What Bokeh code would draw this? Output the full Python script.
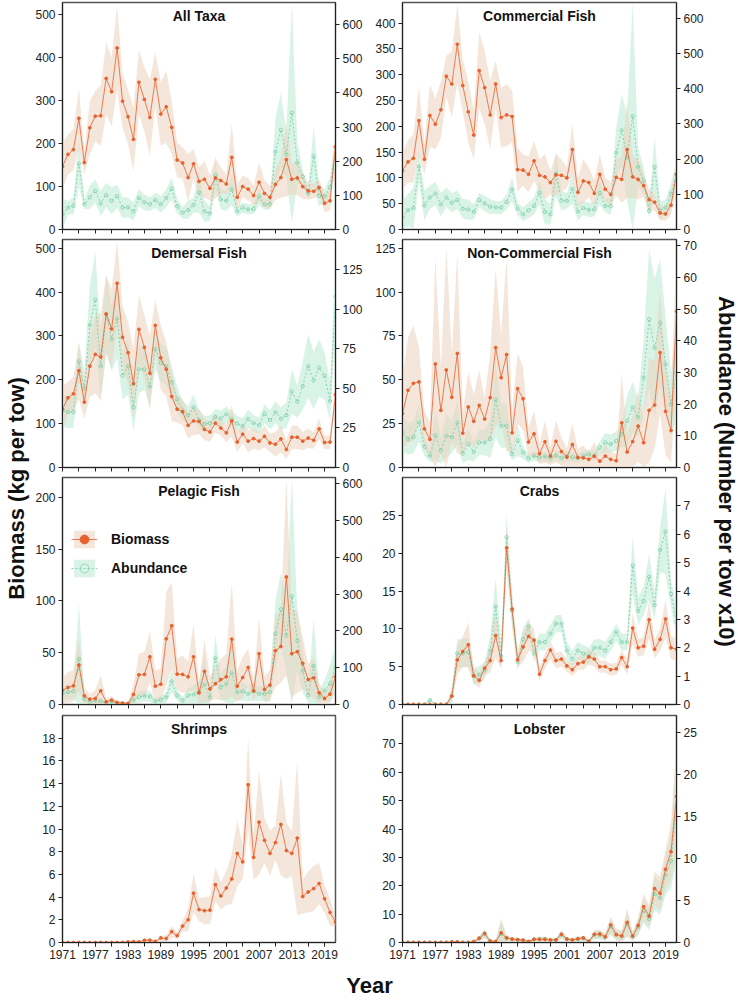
from bokeh.plotting import figure
from bokeh.models import Range1d, LinearAxis, FixedTicker, Label, Legend, LegendItem
from bokeh.layouts import row, column
from bokeh.embed import file_html
from bokeh.resources import INLINE

years = list(range(1971, 2022))

# ---------------- data (1971..2021) ----------------
at_bio = [147,175,186,259,156,237,264,265,352,321, 423,299,263,210,343,303,261,350,269,286,
          238,162,155,121,153,112,117,96,120,114, 106,168,75,100,94,79,110,84,75,105,
          121,163,117,120,100,90,89,98,61,67, 193]
at_bio_err = [52,47,48,70,27,63,59,70,84,80, 98,63,64,74,75,75,89,63,74,84,
              62,41,36,55,34,33,43,29,48,31, 23,78,31,25,26,23,46,31,27,36,
              47,86,35,40,29,20,17,19,21,23, 29]
at_ab = [45,64,69,193,74,94,113,76,101,84, 98,64,65,53,93,80,74,86,74,92,
         120,68,49,57,72,109,53,47,160,88, 84,117,53,64,59,60,97,73,74,228,
         292,220,342,196,155,106,215,98,98,123, 240]
at_ab_err = [44,20,25,66,15,34,34,37,36,39, 34,30,29,26,25,23,20,22,24,26,
             32,21,17,27,22,60,31,22,41,30, 29,45,16,15,15,14,26,16,15,99,
             108,68,321,63,21,17,88,30,20,29, 48]

cf_bio = [114,131,138,211,136,221,204,232,297,282, 359,279,228,183,308,275,222,282,217,222,
          219,116,115,107,133,105,102,91,106,105, 100,155,72,94,91,70,107,78,68,101,
          97,155,102,97,85,58,53,32,30,47, 107]
cf_bio_err = [35,41,47,66,30,61,49,55,40,64, 77,51,60,47,74,71,66,45,58,60,
              50,43,30,35,39,31,44,23,40,31, 20,49,29,42,29,25,39,23,24,35,
              45,94,40,39,22,21,16,14,13,18, 33]
cf_ab = [34,55,61,179,68,91,102,71,91,76, 84,59,57,50,84,74,65,63,62,78,
         114,59,43,55,67,104,50,43,159,82, 82,115,51,61,56,57,104,67,66,218,
         282,204,322,178,139,53,178,54,63,102, 157]
cf_ab_err = [50,45,58,44,42,33,33,33,28,28, 26,27,29,22,20,22,21,18,19,22,
             34,18,19,22,24,34,36,29,64,28, 22,42,26,20,21,20,34,19,25,72,
             102,123,322,54,37,19,83,27,20,31, 38]

df_bio = [133,159,168,221,149,231,258,252,350,316, 420,297,262,191,315,274,215,324,250,224,
          162,133,127,96,106,105,87,81,101,90, 79,106,58,76,60,66,60,71,56,53,
          65,41,69,69,60,67,62,88,57,58, 166]
df_bio_err = [54,36,38,65,38,70,89,100,88,91, 97,73,70,80,77,73,86,60,74,62,
              56,31,30,30,32,29,24,22,21,17, 21,36,23,20,25,23,21,25,21,28,
              31,21,27,27,21,22,19,23,16,15, 21]
df_ab = [36,35,35,67,50,90,106,64,97,81, 94,58,64,38,62,62,51,75,66,64,
         54,43,36,33,38,30,27.5,28,32,31, 33.6,30.5,27.7,26.3,30.7,28,26.7,34,30,34.9,
         30.9,33,48,41.6,51.5,64,55,63,57.8,42, 108]
df_ab_err = [10,10,10,12,10,25,30,20,25,20, 25,15,18,15,15,13,12,13,12,12,
             10,8,6,6,8,6,5,5,5,5, 5,5,5,5,6,5,5,6,6,7,
             7,8,14,10,15,20,18,18,15,12, 20]

nc_bio = [30.7,44,48,48.8,22,16,59,32.6,55.6,40, 65,19.6,34.5,26.3,35.4,27.6,39.8,68.4,51.2,64.4,
          19.8,45,39.2,14.5,19.2,7.8,14.7,6.5,14.9,9.1, 5.9,13.1,5.7,5.5,4.6,6.5,3.6,6.5,4.6,3.8,
          25.5,8.8,14.7,23.6,14.1,32.6,35.6,65.5,32,21.1, 89]
nc_bio_err = [20,30,33,20,10,10,60,25,70,25, 57,12,20,15,20,12,25,45,25,55,
              12,20,18,8,13,6,12,5,12,8, 5,12,5,7,4,8,4,7,4,4,
              28,10,15,20,15,30,25,35,25,18, 40]
nc_ab = [11,9,9.6,14.2,6.6,3.7,10.2,5.3,10,9.6, 14.2,4.4,7.4,4.9,7.9,7.9,9,21.4,13.2,13.2,
         4.2,8.6,4.7,2.9,3.7,3.2,3.5,3.0,3.8,3.0, 3.6,3.3,3.0,3.7,4.2,3.7,6.3,7.9,7.4,8.4,
         10.5,14.7,19,15.8,28.4,46.8,37.7,45.8,32.6,20, 30]
nc_ab_err = [6,5,5,6,3,2,8,4,7,5, 7,3,5,3,4,4,6,12,7,7,
             2,5,2,1.5,1.5,1.5,1.5,1.5,1.5,1.5, 1.5,1.5,1.5,1.5,1.5,1.5,2,3,3,3,
             4,8,8,6,12,22,22,20,15,10, 15]

pf_bio = [13.8,16.4,18,38,8.4,5.1,5.8,13.2,2.6,4.2, 1.9,1.3,1.0,9.7,28.6,29,46,17.7,19.6,63.4,
          76,29.3,29,26.7,46,11.3,32,15,20,24, 26.7,63,17.7,26,35.7,13.2,49,14.5,18.7,52,
          56,123,49,51,39.6,24,25.7,11.3,5.8,10, 26.7]
pf_bio_err = [12,15,15,25,8,5,8,15,3,4, 2,1,1,10,20,22,25,15,15,45,
              42,15,18,15,32,10,30,12,15,20, 22,55,15,20,18,10,35,12,15,35,
              35,95,42,40,25,15,20,10,5,8, 15]
pf_ab = [29,33.5,36,124,15,6,11,9,4.5,6, 3.6,2.7,1.8,12.7,20,23.5,21.7,9,12.7,20,
         63,24.5,11,24.5,27,33.5,54,20,126,47, 56,85,33.5,36,29,36,29,29,33.5,192,
         259,187,294,174,92,24.5,105,20,38,56, 100]
pf_ab_err = [20,20,20,150,10,5,8,6,3,4, 2,2,1,12,15,15,15,8,10,15,
             30,15,10,20,25,30,80,15,60,35, 50,90,20,25,20,25,20,20,25,90,
             100,100,320,80,60,20,130,15,30,50, 60]

cr_bio = [0,0,0,0,0,0,0,0,0,1.1, 5.9,7.0,7.9,3.8,3.2,4.8,5.8,9.1,5.8,20.7,
          12.6,5.9,7.6,9.0,8.5,4.0,5.8,7.2,5.8,6.0, 5.1,4.6,5.4,5.6,6.3,6.0,5.0,5.0,4.6,4.7,
          6.2,5.0,10.1,7.5,7.7,11.2,7.3,8.6,11.3,7.5, 7.3]
cr_bio_err = [0,0,0,0,0,0,0,0,0,0.8, 2,2,3,1,1,1,1.5,3,1,3,
              2,1,2,2,1.5,0.8,1,1.2,1,1, 0.8,0.8,0.8,1,1,1,0.8,0.8,0.8,0.8,
              1,1,2,1.2,1.2,2.5,1.2,1.5,2.5,1.5, 1.5]
cr_ab = [0,0,0,0,0,0.15,0,0,0,0.3, 1.8,1.8,1.85,1.0,1.05,1.2,1.9,3.45,1.7,5.9,
         3.3,1.5,2.3,2.75,1.8,2.2,2.2,2.5,2.85,2.85, 1.9,1.6,1.9,1.8,1.7,2.0,2.0,1.9,2.2,2.55,
         2.2,2.2,4.9,3.3,3.65,4.5,3.5,5.45,6.1,3.9, 2.9]
cr_ab_err = [0,0,0,0,0,0.1,0,0,0,0.3, 0.5,0.5,0.5,0.3,0.3,0.3,0.5,1.0,0.5,0.8,
             0.6,0.3,0.4,0.3,0.3,0.3,0.3,0.3,0.3,0.3, 0.3,0.3,0.3,0.3,0.3,0.3,0.3,0.3,0.3,0.3,
             0.3,0.3,1.0,0.5,0.5,0.8,0.5,0.8,1.5,0.5, 0.5]

sh_bio = [0,0,0,0,0,0,0,0,0,0, 0,0,0.05,0.08,0.05,0.2,0.2,0.1,0.4,0.35,
          0.95,0.6,1.45,2.0,4.35,2.9,2.8,2.85,5.1,4.1, 4.8,5.6,7.85,7.1,13.9,7.5,10.6,9.0,7.85,8.8,
          10.4,8.1,7.85,9.2,4.05,4.45,4.75,5.2,3.85,2.65, 1.8]
sh_bio_err = [0,0,0,0,0,0,0,0,0,0, 0,0,0.03,0.05,0.03,0.1,0.1,0.05,0.2,0.3,
              0.5,0.3,0.5,1.0,1.7,1.0,1.2,1.2,1.5,1.2, 1.5,2.2,2.9,1.5,4.0,2.0,4.6,2.0,2.0,1.5,
              4.5,2.5,2.0,6.8,1.5,1.8,2.0,1.8,1.2,1.2, 0.4]

lb_bio = [0,0,0,0,0,0,0,0,0,0.2, 0.2,0,0,0.3,1.5,3.2,0.5,0.3,3.4,1.6,
          1.2,1.0,0.8,0.3,1.1,1.1,1.1,0.9,0.9,2.9, 1.2,0.9,1.3,1.6,0.4,2.9,3.0,2.0,6.2,2.8,
          2.3,7.1,2.3,6.0,12.6,9.3,19.0,17.3,25.8,32, 51.5]
lb_bio_err = [0,0,0,0,0,0,0,0,0,0.2, 0.2,0,0,0.3,0.8,1.5,0.4,0.3,5.0,1.0,
              0.6,0.6,0.5,0.3,0.6,0.8,0.8,0.5,0.5,1.5, 0.6,0.5,0.8,0.8,0.3,1.5,1.5,1.2,3.0,2.0,
              2.0,5.0,1.5,3.0,4.5,4.0,6.0,6.0,7.0,10.0, 20]
lb_ab = [0,0,0,0,0,0,0,0,0,0.05, 0.05,0,0,0.1,0.5,1.0,0.15,0.1,1.0,0.5,
         0.4,0.3,0.25,0.1,0.4,0.4,0.4,0.3,0.3,0.9, 0.4,0.3,0.4,0.5,0.15,0.9,0.9,0.6,1.9,0.9,
         0.7,2.2,0.7,1.8,3.8,2.8,5.8,5.3,8.0,9.7, 16]
lb_ab_err = [0,0,0,0,0,0,0,0,0,0.05, 0.05,0,0,0.1,0.3,0.5,0.1,0.1,1.5,0.3,
             0.2,0.2,0.2,0.1,0.2,0.3,0.3,0.2,0.2,0.5, 0.2,0.2,0.3,0.3,0.1,0.5,0.5,0.4,1.0,0.6,
             0.6,1.5,0.5,1.0,1.5,1.3,2.0,2.0,2.3,3.2, 6.5]

x_major = list(range(1971, 2020, 6))
x_all = list(range(1971, 2020, 3))

FONT = "Liberation Sans"
BIO_LINE = "#E8602C"
BIO_BAND = "#EBD2BB"
AB_LINE = "#7CCFA8"
AB_BAND = "#B3E8D0"
AX = "#222222"


def style_axis(ax):
    ax.axis_line_color = AX
    ax.axis_line_width = 1
    ax.major_tick_line_color = AX
    ax.minor_tick_line_color = AX
    ax.major_tick_out = 4
    ax.major_tick_in = 0
    ax.minor_tick_out = 4
    ax.minor_tick_in = 0
    ax.major_label_standoff = 3
    ax.major_label_text_font = FONT
    ax.major_label_text_font_size = "12px"
    ax.major_label_text_color = AX


def band(v, e):
    lo = [max(0.0, a - b) for a, b in zip(v, e)]
    hi = [a + b for a, b in zip(v, e)]
    return lo, hi


def panel(title, bio, bio_err, ab, ab_err, ymax, yticks, ymax2, yticks2,
          left_col, bottom_row, mb_top, mb_bottom, height, legend=False):
    mbl, mbr = (32, 33) if left_col else (34, 30)
    p = figure(width=338, height=height, x_range=Range1d(1971, 2021),
               y_range=Range1d(0, ymax), output_backend="svg", toolbar_location=None,
               min_border_left=mbl, min_border_right=mbr,
               min_border_top=mb_top, min_border_bottom=mb_bottom)
    p.xgrid.visible = False
    p.ygrid.visible = False
    p.outline_line_color = "#555555"
    p.outline_line_width = 1.5
    p.background_fill_color = "white"
    p.border_fill_color = None

    if bottom_row:
        p.xaxis.ticker = FixedTicker(ticks=x_major, minor_ticks=x_all)
    else:
        p.xaxis.ticker = FixedTicker(ticks=[], minor_ticks=x_all)
    style_axis(p.xaxis[0])
    p.yaxis.ticker = FixedTicker(ticks=yticks)
    style_axis(p.yaxis[0])
    p.yaxis.minor_tick_line_color = None

    ra = []
    if ab is not None:
        p.extra_y_ranges = {"ab": Range1d(0, ymax2)}
        ax2 = LinearAxis(y_range_name="ab", ticker=FixedTicker(ticks=yticks2))
        style_axis(ax2)
        ax2.minor_tick_line_color = None
        p.add_layout(ax2, "right")
        alo, ahi = band(ab, ab_err)
        ra_band = p.varea(x=years, y1=alo, y2=ahi, fill_color=AB_BAND, fill_alpha=0.5,
                          y_range_name="ab")
        ra = [ra_band]
    lo, hi = band(bio, bio_err)
    rb_band = p.varea(x=years, y1=lo, y2=hi, fill_color=BIO_BAND, fill_alpha=0.55)
    if ab is not None:
        ra_line = p.line(years, ab, line_color=AB_LINE, line_width=0.9, line_dash="2 2",
                         y_range_name="ab")
        ra_pts = p.scatter(years, ab, marker="circle", size=3.3, fill_alpha=0,
                           line_color=AB_LINE, line_width=0.8, y_range_name="ab")
        ra += [ra_line, ra_pts]
    rb_line = p.line(years, bio, line_color=BIO_LINE, line_width=0.8)
    rb_pts = p.scatter(years, bio, marker="circle", size=2.8, fill_color=BIO_LINE,
                       line_color=BIO_LINE)

    p.add_layout(Label(x=1996, y=ymax, y_offset=-13, text=title, text_align="center",
                       text_baseline="middle", text_font=FONT, text_font_style="bold",
                       text_font_size="14px", text_color="#111111"))
    if legend:
        lg = Legend(items=[LegendItem(label="Biomass", renderers=[rb_band, rb_line, rb_pts]),
                           LegendItem(label="Abundance", renderers=ra)],
                    location=(5, 121))
        lg.label_text_font = FONT
        lg.label_text_font_style = "bold"
        lg.label_text_font_size = "14px"
        lg.label_text_color = "#111111"
        lg.glyph_width = 26
        lg.glyph_height = 22
        lg.spacing = 7
        lg.padding = 4
        lg.margin = 0
        lg.label_standoff = 14
        lg.background_fill_alpha = 0
        lg.border_line_alpha = 0
        p.add_layout(lg)
    return p


H1, H2, H3, H4 = 236, 238, 237, 254
p1 = panel("All Taxa", at_bio, at_bio_err, at_ab, at_ab_err, 529, list(range(0, 501, 100)),
           665, list(range(0, 601, 100)), True, False, 2, 7, H1)
p2 = panel("Commercial Fish", cf_bio, cf_bio_err, cf_ab, cf_ab_err, 440, list(range(0, 401, 50)),
           645, list(range(0, 601, 100)), False, False, 2, 7, H1)
p3 = panel("Demersal Fish", df_bio, df_bio_err, df_ab, df_ab_err, 520, list(range(0, 501, 100)),
           144, list(range(0, 126, 25)), True, False, 3, 7, H2)
p4 = panel("Non-Commercial Fish", nc_bio, nc_bio_err, nc_ab, nc_ab_err, 130, list(range(0, 126, 25)),
           72, list(range(0, 71, 10)), False, False, 3, 7, H2)
p5 = panel("Pelagic Fish", pf_bio, pf_bio_err, pf_ab, pf_ab_err, 219, list(range(0, 201, 50)),
           617, list(range(0, 601, 100)), True, False, 3, 7, H3, legend=True)
p6 = panel("Crabs", cr_bio, cr_bio_err, cr_ab, cr_ab_err, 30, list(range(0, 26, 5)),
           8, list(range(0, 8)), False, False, 3, 7, H3)
p7 = panel("Shrimps", sh_bio, sh_bio_err, None, None, 20, list(range(0, 19, 2)),
           None, None, True, True, 4, 23, H4)
p8 = panel("Lobster", lb_bio, lb_bio_err, lb_ab, lb_ab_err, 80, list(range(0, 71, 10)),
           27, list(range(0, 26, 5)), False, True, 4, 23, H4)

TOTAL = H1 + H2 + H3 + H4


def blank(w, h):
    f = figure(width=w, height=h, x_range=Range1d(0, 1), y_range=Range1d(0, 1),
               x_axis_type=None, y_axis_type=None, output_backend="svg",
               toolbar_location=None, min_border=0)
    f.outline_line_color = None
    f.xgrid.visible = False
    f.ygrid.visible = False
    return f


left_lab = blank(30, TOTAL)
left_lab.add_layout(Label(x=16, y=TOTAL - 488, x_units="screen", y_units="screen",
                          angle=90, angle_units="deg", text="Biomass (kg per tow)",
                          text_align="center", text_baseline="middle", text_font=FONT,
                          text_font_style="bold", text_font_size="22px", text_color="#111111"))
right_lab = blank(32, TOTAL)
right_lab.add_layout(Label(x=20, y=TOTAL - 471, x_units="screen", y_units="screen",
                           angle=-90, angle_units="deg", text="Abundance (Number per tow x10)",
                           text_align="center", text_baseline="middle", text_font=FONT,
                           text_font_style="bold", text_font_size="22px", text_color="#111111"))
year_lab = blank(738, 1000 - TOTAL)
year_lab.add_layout(Label(x=369, y=1000 - TOTAL - 20, x_units="screen", y_units="screen",
                          text="Year", text_align="center", text_baseline="middle",
                          text_font=FONT, text_font_style="bold", text_font_size="22px",
                          text_color="#111111"))

grid = column(row(p1, p2, spacing=0), row(p3, p4, spacing=0), row(p5, p6, spacing=0),
              row(p7, p8, spacing=0), spacing=0)
layout = column(row(left_lab, grid, right_lab, spacing=0), year_lab, spacing=0)

open("out.html", "w").write(file_html(layout, INLINE))
